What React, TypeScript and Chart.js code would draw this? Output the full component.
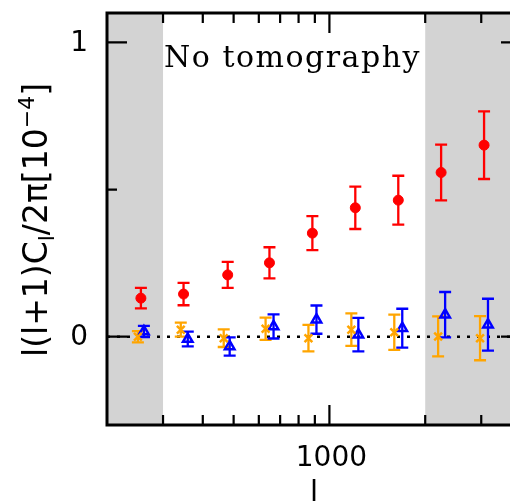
import React, { useEffect, useRef } from "react";
import { Chart, registerables } from "chart.js";

Chart.register(...registerables);

// multipole bins (l) per series (slightly offset in the figure)
const redL = [255.6, 348, 479, 648, 884, 1206, 1646, 2244, 3062];
const orangeL = [250.1, 341.1, 465.4, 630.1, 859.2, 1172, 1599, 2196, 2974];
const blueL = [261.2, 358.8, 485.9, 667.5, 910.5, 1233, 1694, 2310, 3150];

// l(l+1)C_l/2pi [1e-4]
const redY = [0.131, 0.145, 0.21, 0.251, 0.352, 0.438, 0.464, 0.558, 0.651];
const redErr = [0.035, 0.038, 0.044, 0.053, 0.058, 0.072, 0.083, 0.095, 0.115];
const orangeY = [0.0, 0.024, -0.005, 0.027, -0.005, 0.024, 0.015, 0.001, -0.005];
const orangeErr = [0.019, 0.024, 0.03, 0.038, 0.045, 0.055, 0.06, 0.068, 0.075];
const blueY = [0.018, -0.008, -0.033, 0.035, 0.058, 0.007, 0.029, 0.075, 0.041];
const blueErr = [0.019, 0.025, 0.031, 0.041, 0.048, 0.057, 0.066, 0.077, 0.088];

const xMajorTicks = [1000];
const xMajorLabels = ["1000"];
const xMinorTicks = [300, 400, 500, 600, 700, 800, 900, 2000, 3000];
const yMajorTicks = [0, 1];
const yMajorLabels = ["0", "1"];
const yMinorTicks = [0.5];
const maskLow = [200, 300];
const maskHigh = [2000, 4000];
const xRange = [200, 4000];
const yRange = [-0.3, 1.1];
const panelLabel = "No tomography";

const RED = "#ff0000";
const ORANGE = "#ffa500";
const BLUE = "#0000ff";

type Series = { l: number[]; y: number[]; e: number[]; color: string };
const seriesList: Series[] = [
  { l: redL, y: redY, e: redErr, color: RED },
  { l: orangeL, y: orangeY, e: orangeErr, color: ORANGE },
  { l: blueL, y: blueY, e: blueErr, color: BLUE },
];

const toPts = (l: number[], y: number[]) => l.map((v, i) => ({ x: v, y: y[i] }));

const decorPlugin = {
  id: "decor",
  beforeDatasetsDraw(chart: any) {
    const { ctx, chartArea: a, scales } = chart;
    const xs = scales.x;
    const ys = scales.y;
    ctx.save();
    // grey excluded regions
    ctx.fillStyle = "#d3d3d3";
    for (const m of [maskLow, maskHigh]) {
      const x0 = xs.getPixelForValue(m[0]);
      const x1 = xs.getPixelForValue(m[1]);
      ctx.fillRect(x0, a.top, x1 - x0, a.bottom - a.top);
    }
    // dotted zero line
    const y0 = ys.getPixelForValue(0);
    ctx.strokeStyle = "#000";
    ctx.lineWidth = 2.5;
    ctx.setLineDash([3, 7]);
    ctx.beginPath();
    ctx.moveTo(a.left, y0);
    ctx.lineTo(a.right, y0);
    ctx.stroke();
    ctx.setLineDash([]);
    // error bars
    for (const s of seriesList) {
      ctx.strokeStyle = s.color;
      ctx.lineWidth = 2.3;
      s.l.forEach((lv, i) => {
        const px = xs.getPixelForValue(lv);
        const top = ys.getPixelForValue(s.y[i] + s.e[i]);
        const bot = ys.getPixelForValue(s.y[i] - s.e[i]);
        ctx.beginPath();
        ctx.moveTo(px, top);
        ctx.lineTo(px, bot);
        ctx.moveTo(px - 6, top);
        ctx.lineTo(px + 6, top);
        ctx.moveTo(px - 6, bot);
        ctx.lineTo(px + 6, bot);
        ctx.stroke();
      });
    }
    ctx.restore();
  },
  afterDraw(chart: any) {
    const { ctx, chartArea: a, scales } = chart;
    const xs = scales.x;
    const ys = scales.y;
    ctx.save();
    ctx.strokeStyle = "#000";
    ctx.lineWidth = 3;
    ctx.strokeRect(a.left, a.top, a.right - a.left, a.bottom - a.top);
    ctx.lineWidth = 2.2;
    ctx.beginPath();
    const xt = (vals: number[], len: number) => {
      for (const v of vals) {
        const px = xs.getPixelForValue(v);
        ctx.moveTo(px, a.bottom);
        ctx.lineTo(px, a.bottom - len);
        ctx.moveTo(px, a.top);
        ctx.lineTo(px, a.top + len);
      }
    };
    const yt = (vals: number[], len: number) => {
      for (const v of vals) {
        const py = ys.getPixelForValue(v);
        ctx.moveTo(a.left, py);
        ctx.lineTo(a.left + len, py);
        ctx.moveTo(a.right, py);
        ctx.lineTo(a.right - len, py);
      }
    };
    xt(xMajorTicks, 20);
    xt(xMinorTicks, 10);
    yt(yMajorTicks, 20);
    yt(yMinorTicks, 10);
    ctx.stroke();

    // tick labels
    ctx.fillStyle = "#000";
    ctx.font = '28px "DejaVu Sans"';
    ctx.textAlign = "center";
    ctx.textBaseline = "alphabetic";
    xMajorTicks.forEach((v, i) => {
      ctx.fillText(xMajorLabels[i], xs.getPixelForValue(v) + 2, a.bottom + 41);
    });
    ctx.textAlign = "right";
    ctx.textBaseline = "middle";
    yMajorTicks.forEach((v, i) => {
      ctx.fillText(yMajorLabels[i], a.left - 19, ys.getPixelForValue(v) + 1);
    });

    // x title
    ctx.textAlign = "center";
    ctx.textBaseline = "alphabetic";
    ctx.font = '29px "DejaVu Sans"';
    ctx.fillText("l", (a.left + a.right) / 2, 501);

    // y title with sub/superscripts
    const big = 33;
    const small = 22;
    const segs = [
      { t: "l(l+1)C", s: big, dy: 0 },
      { t: "l", s: small, dy: 7 },
      { t: "/2π[10", s: big, dy: 0 },
      { t: "−4", s: small, dy: -13 },
      { t: "]", s: big, dy: 0 },
    ];
    let total = 0;
    for (const g of segs) {
      ctx.font = `${g.s}px "DejaVu Sans"`;
      total += ctx.measureText(g.t).width;
    }
    ctx.translate(47, 220);
    ctx.rotate(-Math.PI / 2);
    ctx.textAlign = "left";
    ctx.textBaseline = "alphabetic";
    let cx = -total / 2;
    for (const g of segs) {
      ctx.font = `${g.s}px "DejaVu Sans"`;
      ctx.fillText(g.t, cx, g.dy);
      cx += ctx.measureText(g.t).width;
    }
    ctx.restore();

    // panel label
    ctx.save();
    ctx.fillStyle = "#000";
    ctx.font = '30px "DejaVu Serif"';
    (ctx as any).letterSpacing = "1.5px";
    ctx.textAlign = "left";
    ctx.textBaseline = "alphabetic";
    ctx.fillText(panelLabel, xs.getPixelForValue(300) + 1, 67);
    ctx.restore();
  },
};

export default function App() {
  const ref = useRef<HTMLCanvasElement | null>(null);
  useEffect(() => {
    if (!ref.current) return;
    const chart = new Chart(ref.current, {
      type: "scatter",
      data: {
        datasets: [
          {
            data: toPts(redL, redY),
            pointStyle: "circle",
            pointRadius: 5,
            backgroundColor: RED,
            borderColor: RED,
            borderWidth: 1,
          },
          {
            data: toPts(orangeL, orangeY),
            pointStyle: "crossRot",
            pointRadius: 5.5,
            backgroundColor: ORANGE,
            borderColor: ORANGE,
            borderWidth: 2.5,
          },
          {
            data: toPts(blueL, blueY),
            pointStyle: "triangle",
            pointRadius: 5.5,
            backgroundColor: "rgba(0,0,0,0)",
            borderColor: BLUE,
            borderWidth: 2.5,
          },
        ],
      },
      options: {
        animation: false,
        responsive: false,
        layout: { autoPadding: false, padding: { left: 107, top: 13, right: 1, bottom: 78 } },
        plugins: { legend: { display: false }, tooltip: { enabled: false } },
        scales: {
          x: { type: "logarithmic", min: xRange[0], max: xRange[1], display: false },
          y: { type: "linear", min: yRange[0], max: yRange[1], display: false },
        },
      },
      plugins: [decorPlugin],
    });
    return () => chart.destroy();
  }, []);
  return (
    <div style={{ position: "fixed", left: 0, top: 0, width: 510, height: 503, overflow: "hidden", background: "#fff" }}>
      <canvas ref={ref} width={522} height={503} style={{ display: "block", width: 522, height: 503 }} />
    </div>
  );
}
